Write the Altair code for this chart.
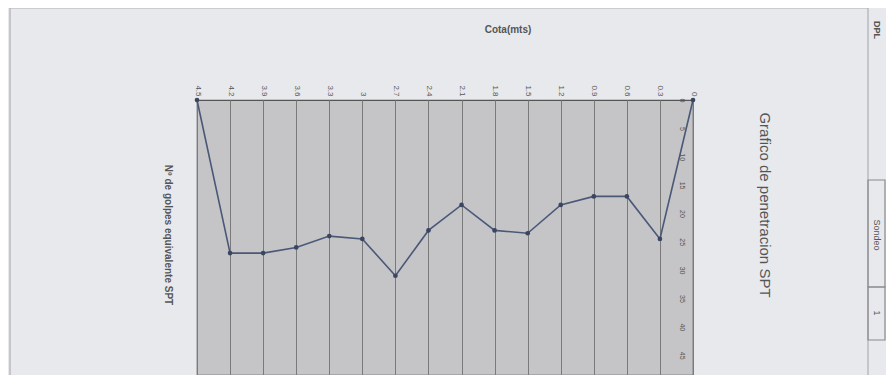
import altair as alt
import pandas as pd

cota = ["4.5", "4.2", "3.9", "3.6", "3.3", "3", "2.7", "2.4", "2.1", "1.8",
        "1.5", "1.2", "0.9", "0.6", "0.3", "0"]
golpes = [0, 27, 27, 26, 24, 24.5, 31, 23, 18.5, 23, 23.5, 18.5, 17, 17, 24.5, 0]
y_ticks = [0, 5, 10, 15, 20, 25, 30, 35, 40, 45]

df = pd.DataFrame({"cota": cota, "golpes": golpes})

FONT = "Liberation Sans"
W, H = 496, 275

x_enc = alt.X("cota:N", sort=cota, scale=alt.Scale(type="point", padding=0),
              axis=alt.Axis(orient="top", title=None, labelAngle=90, labelAlign="right",
                            labelBaseline="middle", labelFontSize=8, labelColor="#555",
                            labelFont=FONT, ticks=False, domain=False, grid=True,
                            gridColor="#7a7a7a", gridWidth=1, labelPadding=4))
y_enc = alt.Y("golpes:Q", scale=alt.Scale(domain=[0, 48.5], reverse=True, nice=False),
              axis=alt.Axis(orient="right", title=None, values=y_ticks, labelAngle=90,
                            labelAlign="center", labelBaseline="middle", labelFontSize=7,
                            labelColor="#555", labelFont=FONT, ticks=False, domain=False,
                            grid=False, labelPadding=-12))

line = alt.Chart(df).mark_line(color="#4a5878", strokeWidth=1.6,
                               point=alt.OverlayMarkDef(color="#3a4660", size=22, filled=True)
                               ).encode(x=x_enc, y=y_enc)

def txt(s, x, y, size, angle=0, bold=False, color="#555"):
    return alt.Chart(pd.DataFrame({"t": [s]})).mark_text(
        fontSize=size, font=FONT, angle=angle, color=color,
        fontWeight="bold" if bold else "normal", align="center", baseline="middle"
    ).encode(x=alt.value(x), y=alt.value(y), text="t:N")

def box(x1, x2, y1, y2, color="#8a8a8a"):
    return alt.Chart(pd.DataFrame({"a": [0]})).mark_rect(
        fill=None, stroke=color, strokeWidth=1.2, filled=False
    ).encode(x=alt.value(x1), x2=alt.value(x2), y=alt.value(y1), y2=alt.value(y2))

layers = [
    box(-187, 671, -92, 286, "#b0b0b4"),
    box(671, 688, 80, 187),
    box(671, 688, 187, 240),
    line,
    txt("Cota(mts)", 311, -70, 10, bold=True, color="#555"),
    txt("Nº de golpes equivalente SPT", -29, 135, 10, angle=90, bold=True, color="#555"),
    txt("Grafico de penetracion SPT", 568, 105, 15, angle=90, color="#555"),
    txt("DPL", 680, -70, 9, angle=90, bold=True, color="#555"),
    txt("Sondeo", 680, 135, 9, angle=90, color="#555"),
    txt("1", 680, 213, 9, angle=90, color="#555"),
]

chart = alt.layer(*layers).properties(
    width=W, height=H,
    autosize=alt.AutoSizeParams(type="none"),
    padding={"left": 189, "top": 92, "right": 193, "bottom": 0},
    background="#e7e9ed",
).configure_view(fill="#c5c5c7", stroke="#555", strokeWidth=1.2)

chart.save("out.html", embed_options={"renderer": "svg", "actions": False})
